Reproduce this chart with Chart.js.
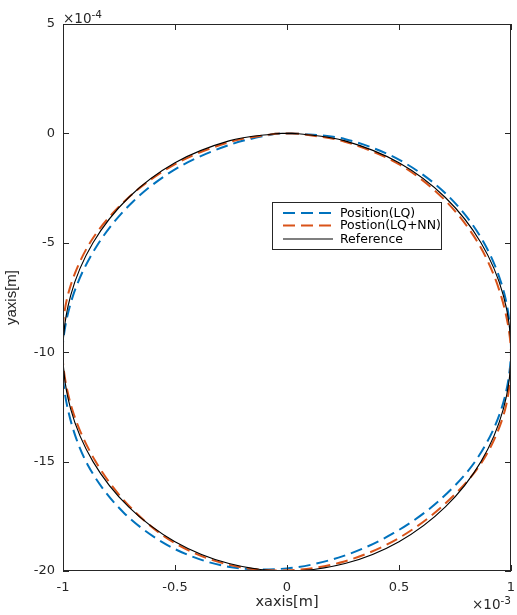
<!DOCTYPE html>
<html>
<head>
<meta charset="utf-8">
<script src="https://cdn.jsdelivr.net/npm/chart.js@4.4.1/dist/chart.umd.min.js"></script>
<style>
  html, body { margin: 0; padding: 0; background: #fff; }
  canvas { display: block; }
</style>
</head>
<body>
<canvas id="circleChart" width="517" height="615"></canvas>
<script>
// x in units of 1e-3 m, y in units of 1e-4 m
const xTicks = [-1, -0.5, 0, 0.5, 1];
const xTickLabels = ['-1', '-0.5', '0', '0.5', '1'];
const yTicks = [-20, -15, -10, -5, 0, 5];
const yTickLabels = ['-20', '-15', '-10', '-5', '0', '5'];

const seriesNames = ['Position(LQ)', 'Postion(LQ+NN)', 'Reference'];

const lqX = [0, 0.052, 0.261, 0.506, 0.717, 0.876, 0.972, 1.0, 0.958, 0.847, 0.679, 0.477, 0.250, 0,
  -0.263, -0.515, -0.731, -0.890, -0.978, -1.003, -0.956, -0.847, -0.688, -0.487, -0.254, -0.052, 0];
const lqY = [0, -0.014, -0.264, -1.236, -2.830, -4.94, -7.396, -10, -12.567, -14.89, -16.788, -18.262, -19.321, -19.88,
  -19.804, -18.920, -17.311, -15.14, -12.619, -10, -7.438, -5.11, -3.120, -1.565, -0.515, -0.020, 0];

const nnX = [0, 0.052, 0.258, 0.497, 0.700, 0.856, 0.956, 1.0, 0.974, 0.870, 0.699, 0.493, 0.256, 0,
  -0.260, -0.503, -0.704, -0.857, -0.960, -1.003, -0.978, -0.876, -0.707, -0.497, -0.257, -0.052, 0];
const nnY = [0, -0.016, -0.380, -1.392, -3.000, -5.06, -7.438, -10, -12.609, -15.025, -16.986, -18.530, -19.562, -19.97,
  -19.717, -18.712, -17.036, -14.95, -12.572, -10, -7.381, -4.94, -2.929, -1.392, -0.399, -0.016, 0];

const refX = [0, 0.052, 0.259, 0.5, 0.707, 0.866, 0.966, 1, 0.966, 0.866, 0.707, 0.5, 0.259, 0,
  -0.259, -0.5, -0.707, -0.866, -0.966, -1, -0.966, -0.866, -0.707, -0.5, -0.259, -0.052, 0];
const refY = [0, -0.014, -0.341, -1.340, -2.929, -5, -7.412, -10, -12.588, -15, -17.071, -18.660, -19.659, -20,
  -19.659, -18.660, -17.071, -15, -12.588, -10, -7.412, -5, -2.929, -1.340, -0.341, -0.014, 0];

const toPoints = (xs, ys) => xs.map((v, i) => ({ x: v, y: ys[i] }));

const FONT = '"DejaVu Sans", Verdana, sans-serif';
const VFONT = '"Liberation Sans", Arial, Helvetica, sans-serif';
const AXIS_COLOR = '#262626';
const colors = ['#0072BD', '#D95319', '#000000'];
const dashes = [[12, 6], [12, 6], []];
const widths = [2, 2, 1.1];

// box, inward ticks, exponent labels, axis titles and legend in MATLAB style
const matlabAxes = {
  id: 'matlabAxes',
  afterDraw(chart) {
    const { ctx, chartArea: a } = chart;
    const xs = chart.scales.x, ys = chart.scales.y;
    const tl = 6;
    ctx.save();
    ctx.strokeStyle = AXIS_COLOR;
    ctx.lineWidth = 1;
    ctx.strokeRect(a.left + 0.5, a.top + 0.5, a.right - a.left - 1, a.bottom - a.top - 1);
    ctx.beginPath();
    xTicks.forEach(v => {
      const px = Math.round(xs.getPixelForValue(v)) + 0.5;
      ctx.moveTo(px, a.bottom); ctx.lineTo(px, a.bottom - tl);
      ctx.moveTo(px, a.top); ctx.lineTo(px, a.top + tl);
    });
    yTicks.forEach(v => {
      const py = Math.round(ys.getPixelForValue(v)) + 0.5;
      ctx.moveTo(a.left, py); ctx.lineTo(a.left + tl, py);
      ctx.moveTo(a.right, py); ctx.lineTo(a.right - tl, py);
    });
    ctx.stroke();

    // exponent labels
    ctx.fillStyle = AXIS_COLOR;
    ctx.textBaseline = 'alphabetic';
    ctx.textAlign = 'left';
    ctx.font = '13.5px ' + FONT;
    ctx.fillText('\u00d710', 63, 23);
    let w = ctx.measureText('\u00d710').width;
    ctx.font = '10.5px ' + FONT;
    ctx.fillText('-4', 63 + w, 18);
    ctx.font = '13.5px ' + FONT;
    ctx.fillText('\u00d710', 472, 609);
    w = ctx.measureText('\u00d710').width;
    ctx.font = '10.5px ' + FONT;
    ctx.fillText('-3', 472 + w, 604);

    // axis titles
    ctx.font = '14.5px ' + FONT;
    ctx.textAlign = 'center';
    ctx.textBaseline = 'middle';
    ctx.fillText('xaxis[m]', (a.left + a.right) / 2, 602);
    ctx.save();
    ctx.translate(12, (a.top + a.bottom) / 2);
    ctx.rotate(-Math.PI / 2);
    ctx.font = '15px ' + VFONT;
    ctx.fillText('yaxis[m]', 0, 0);
    ctx.restore();

    // legend
    const lx = 272, ly = 202, lw = 169, lh = 47;
    ctx.fillStyle = '#fff';
    ctx.fillRect(lx, ly, lw, lh);
    ctx.strokeStyle = AXIS_COLOR;
    ctx.lineWidth = 1;
    ctx.strokeRect(lx + 0.5, ly + 0.5, lw, lh);
    ctx.font = '12.5px ' + FONT;
    ctx.textAlign = 'left';
    const rows = [213, 225.5, 239];
    seriesNames.forEach((name, i) => {
      ctx.strokeStyle = colors[i];
      ctx.lineWidth = widths[i];
      ctx.setLineDash(dashes[i]);
      ctx.beginPath();
      ctx.moveTo(283, rows[i]);
      ctx.lineTo(333, rows[i]);
      ctx.stroke();
      ctx.setLineDash([]);
      ctx.fillStyle = '#000';
      ctx.fillText(name, 340, rows[i] + 0.5);
    });
    ctx.restore();
  }
};

const ctx = document.getElementById('circleChart').getContext('2d');
new Chart(ctx, {
  type: 'scatter',
  data: {
    datasets: [
      { label: seriesNames[0], data: toPoints(lqX, lqY), order: 2 },
      { label: seriesNames[1], data: toPoints(nnX, nnY), order: 1 },
      { label: seriesNames[2], data: toPoints(refX, refY), order: 0 }
    ].map((d, i) => ({
      ...d,
      showLine: true,
      borderColor: colors[i],
      backgroundColor: colors[i],
      borderWidth: widths[i],
      borderDash: dashes[i],
      pointRadius: 0,
      tension: 0.33,
      fill: false
    }))
  },
  options: {
    responsive: false,
    animation: false,
    devicePixelRatio: 1,
    layout: { padding: { left: 0, right: 6, top: 24, bottom: 0 } },
    plugins: {
      legend: { display: false },
      tooltip: { enabled: false }
    },
    scales: {
      x: {
        type: 'linear',
        min: -1,
        max: 1,
        afterBuildTicks: s => { s.ticks = xTicks.map(v => ({ value: v })); },
        afterFit: s => { s.height = 44; s.paddingLeft = 0; s.paddingRight = 0; },
        grid: { display: false, drawTicks: false },
        border: { display: false },
        ticks: {
          padding: 9,
          color: AXIS_COLOR,
          font: { family: FONT, size: 13 },
          maxRotation: 0,
          callback: v => xTickLabels[xTicks.indexOf(v)]
        }
      },
      y: {
        type: 'linear',
        min: -20,
        max: 5,
        afterBuildTicks: s => { s.ticks = yTicks.map(v => ({ value: v })); },
        afterFit: s => { s.width = 63; s.paddingTop = 0; s.paddingBottom = 0; },
        grid: { display: false, drawTicks: false },
        border: { display: false },
        ticks: {
          padding: 8,
          color: AXIS_COLOR,
          font: { family: FONT, size: 13 },
          callback: v => yTickLabels[yTicks.indexOf(v)]
        }
      }
    }
  },
  plugins: [matlabAxes]
});
</script>
</body>
</html>
